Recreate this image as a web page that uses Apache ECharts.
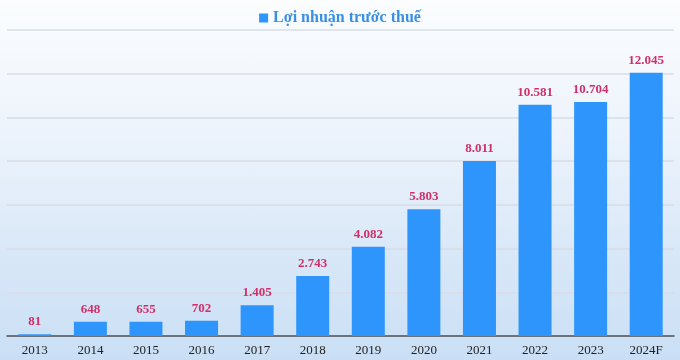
<!DOCTYPE html>
<html>
<head>
<meta charset="utf-8">
<script src="https://cdn.jsdelivr.net/npm/echarts@6/dist/echarts.min.js"></script>
<style>
html,body{margin:0;padding:0;}
#c{width:680px;height:360px;background:linear-gradient(to bottom,#fbfdff 0%,#eef4fc 35%,#d9e8f8 70%,#cadff5 100%);}
</style>
</head>
<body>
<div id="c"></div>
<script>
const categories = ['2013','2014','2015','2016','2017','2018','2019','2020','2021','2022','2023','2024F'];
const profitValues = [81, 648, 655, 702, 1405, 2743, 4082, 5803, 8011, 10581, 10704, 12045];
const seriesName = 'Lợi nhuận trước thuế';

function fmt(v){ return String(v).replace(/\B(?=(\d{3})+(?!\d))/g, '.'); }

const chart = echarts.init(document.getElementById('c'), null, {renderer:'canvas'});
chart.setOption({
  backgroundColor: 'transparent',
  animation: false,
  legend: {
    top: 5,
    left: 'center',
    itemWidth: 9,
    itemHeight: 9,
    itemGap: 5,
    icon: 'rect',
    textStyle: {fontFamily: 'Liberation Serif', fontWeight: 'bold', fontSize: 16, color: '#3a8fe3'},
    data: [seriesName]
  },
  grid: {left: 7, right: 6, top: 30, bottom: 24, containLabel: false},
  xAxis: {
    type: 'category',
    data: categories,
    axisTick: {show: false},
    axisLine: {lineStyle: {color: '#4a4f57', width: 1.5}},
    axisLabel: {fontFamily: 'Liberation Serif', fontSize: 13, color: '#222', margin: 8}
  },
  yAxis: {
    type: 'value',
    min: 0, max: 14000, interval: 2000,
    axisLabel: {show: false},
    axisLine: {show: false},
    axisTick: {show: false},
    splitLine: {lineStyle: {color: '#d8dde5', width: 1.5}}
  },
  series: [{
    name: seriesName,
    type: 'bar',
    data: profitValues,
    barWidth: 33,
    itemStyle: {color: '#2d95fb'},
    label: {
      show: true,
      position: 'top',
      distance: 6,
      fontFamily: 'Liberation Serif',
      fontWeight: 'bold',
      fontSize: 13,
      color: '#d0306a',
      formatter: p => fmt(p.value)
    }
  }]
});
</script>
</body>
</html>
